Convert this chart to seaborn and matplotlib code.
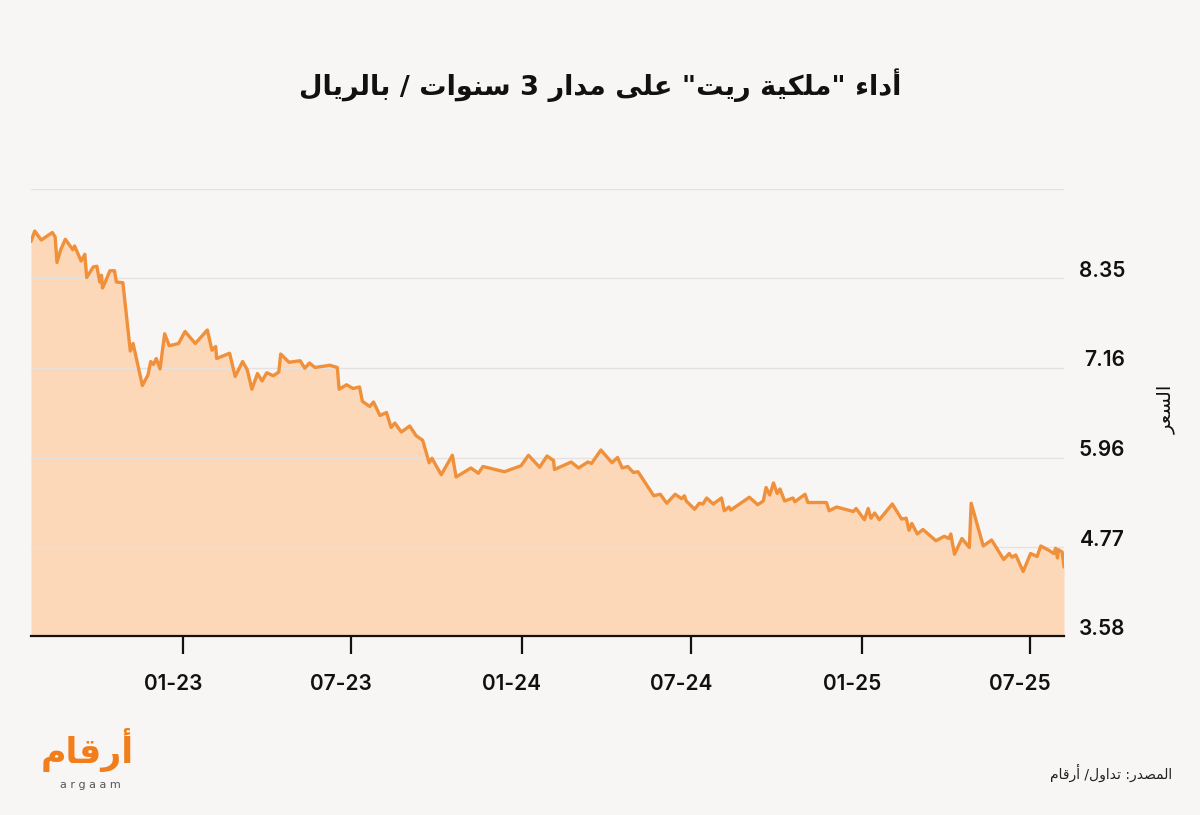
import re
import pandas as pd
import matplotlib.pyplot as plt
import matplotlib.dates as mdates
import matplotlib.transforms as mtransforms
import seaborn as sns

# price series
dates = [
    '2022-07-21', '2022-07-25', '2022-08-01', '2022-08-13', '2022-08-16', '2022-08-18',
    '2022-08-22', '2022-08-27', '2022-09-04', '2022-09-06', '2022-09-13', '2022-09-17',
    '2022-09-19', '2022-09-26', '2022-09-30', '2022-10-03', '2022-10-05', '2022-10-06',
    '2022-10-09', '2022-10-14', '2022-10-19', '2022-10-21', '2022-10-28', '2022-11-05',
    '2022-11-08', '2022-11-18', '2022-11-24', '2022-11-27', '2022-11-30', '2022-12-03',
    '2022-12-07', '2022-12-12', '2022-12-17', '2022-12-27', '2023-01-03', '2023-01-14',
    '2023-01-27', '2023-02-01', '2023-02-05', '2023-02-06', '2023-02-20', '2023-02-26',
    '2023-03-06', '2023-03-11', '2023-03-16', '2023-03-22', '2023-03-27', '2023-04-01',
    '2023-04-08', '2023-04-14', '2023-04-16', '2023-04-25', '2023-05-07', '2023-05-12',
    '2023-05-17', '2023-05-23', '2023-06-08', '2023-06-16', '2023-06-18', '2023-06-26',
    '2023-07-03', '2023-07-10', '2023-07-13', '2023-07-21', '2023-07-25', '2023-08-01',
    '2023-08-08', '2023-08-13', '2023-08-17', '2023-08-24', '2023-09-02', '2023-09-09',
    '2023-09-16', '2023-09-23', '2023-09-26', '2023-10-06', '2023-10-18', '2023-10-22',
    '2023-11-07', '2023-11-15', '2023-11-20', '2023-12-13', '2023-12-31', '2024-01-08',
    '2024-01-20', '2024-01-28', '2024-02-04', '2024-02-05', '2024-02-23', '2024-03-02',
    '2024-03-12', '2024-03-16', '2024-03-26', '2024-04-07', '2024-04-13', '2024-04-18',
    '2024-04-24', '2024-04-30', '2024-05-05', '2024-05-22', '2024-05-29', '2024-06-05',
    '2024-06-14', '2024-06-21', '2024-06-24', '2024-06-26', '2024-07-05', '2024-07-10',
    '2024-07-14', '2024-07-18', '2024-07-25', '2024-08-03', '2024-08-06', '2024-08-11',
    '2024-08-13', '2024-09-02', '2024-09-11', '2024-09-17', '2024-09-20', '2024-09-24',
    '2024-09-28', '2024-10-02', '2024-10-05', '2024-10-10', '2024-10-19', '2024-10-21',
    '2024-11-01', '2024-11-04', '2024-11-24', '2024-11-27', '2024-12-05', '2024-12-23',
    '2024-12-26', '2025-01-04', '2025-01-08', '2025-01-11', '2025-01-15', '2025-01-20',
    '2025-02-03', '2025-02-13', '2025-02-18', '2025-02-21', '2025-02-24', '2025-03-02',
    '2025-03-08', '2025-03-22', '2025-03-31', '2025-04-05', '2025-04-07', '2025-04-11',
    '2025-04-19', '2025-04-27', '2025-04-29', '2025-05-12', '2025-05-21', '2025-06-03',
    '2025-06-09', '2025-06-12', '2025-06-16', '2025-06-24', '2025-07-02', '2025-07-09',
    '2025-07-13', '2025-07-22', '2025-07-27', '2025-07-29', '2025-07-31', '2025-08-01',
    '2025-08-05', '2025-08-07',
]
prices = [
    8.84, 8.98, 8.86, 8.96, 8.90, 8.56,
    8.73, 8.87, 8.73, 8.78, 8.58, 8.67,
    8.36, 8.50, 8.51, 8.30, 8.39, 8.22,
    8.30, 8.45, 8.45, 8.30, 8.29, 7.38,
    7.48, 6.92, 7.06, 7.24, 7.20, 7.28,
    7.14, 7.61, 7.45, 7.48, 7.64, 7.48,
    7.66, 7.39, 7.44, 7.28, 7.35, 7.04,
    7.24, 7.13, 6.87, 7.08, 6.98, 7.09,
    7.05, 7.10, 7.34, 7.23, 7.25, 7.15,
    7.22, 7.16, 7.19, 7.16, 6.87, 6.93,
    6.88, 6.90, 6.71, 6.64, 6.70, 6.52,
    6.56, 6.36, 6.42, 6.30, 6.38, 6.25,
    6.19, 5.89, 5.95, 5.73, 5.99, 5.70,
    5.82, 5.75, 5.84, 5.77, 5.85, 5.99,
    5.83, 5.98, 5.92, 5.80, 5.90, 5.82,
    5.90, 5.88, 6.06, 5.89, 5.96, 5.82,
    5.84, 5.76, 5.77, 5.45, 5.47, 5.35,
    5.47, 5.41, 5.45, 5.38, 5.27, 5.35,
    5.34, 5.42, 5.34, 5.42, 5.25, 5.30,
    5.26, 5.43, 5.33, 5.38, 5.56, 5.46,
    5.62, 5.48, 5.54, 5.38, 5.42, 5.37,
    5.47, 5.36, 5.36, 5.25, 5.30, 5.24,
    5.28, 5.13, 5.28, 5.15, 5.22, 5.13,
    5.34, 5.14, 5.15, 4.99, 5.08, 4.94,
    5.00, 4.85, 4.91, 4.88, 4.94, 4.67,
    4.88, 4.76, 5.35, 4.78, 4.86, 4.60,
    4.68, 4.63, 4.66, 4.44, 4.68, 4.64,
    4.78, 4.72, 4.68, 4.75, 4.62, 4.73,
    4.70, 4.50,
]
ytick_values = [3.58, 4.77, 5.96, 7.16, 8.35]
y_top = 9.54
xtick_dates = ['2023-01-01', '2023-07-01', '2024-01-01', '2024-07-01', '2025-01-01', '2025-07-01']

title = 'أداء "ملكية ريت" على مدار 3 سنوات / بالريال'
ylabel = 'السعر'
source = 'المصدر: تداول/ أرقام'
logo_ar = 'أرقام'
logo_en = 'a r g a a m'

bg = '#f8f6f4'
line_color = '#f0903a'
fill_color = '#fdd8b8'
logo_color = '#f27d1b'

# matplotlib has no arabic shaping, so pick the contextual forms by hand
FORMS = {
    'ء': ('\ufe80', None, None, None),
    'أ': ('\ufe83', '\ufe84', None, None),
    'ا': ('\ufe8d', '\ufe8e', None, None),
    'ب': ('\ufe8f', '\ufe90', '\ufe91', '\ufe92'),
    'ة': ('\ufe93', '\ufe94', None, None),
    'ت': ('\ufe95', '\ufe96', '\ufe97', '\ufe98'),
    'د': ('\ufea9', '\ufeaa', None, None),
    'ر': ('\ufead', '\ufeae', None, None),
    'س': ('\ufeb1', '\ufeb2', '\ufeb3', '\ufeb4'),
    'ص': ('\ufeb9', '\ufeba', '\ufebb', '\ufebc'),
    'ع': ('\ufec9', '\ufeca', '\ufecb', '\ufecc'),
    'ق': ('\ufed5', '\ufed6', '\ufed7', '\ufed8'),
    'ك': ('\ufed9', '\ufeda', '\ufedb', '\ufedc'),
    'ل': ('\ufedd', '\ufede', '\ufedf', '\ufee0'),
    'م': ('\ufee1', '\ufee2', '\ufee3', '\ufee4'),
    'ن': ('\ufee5', '\ufee6', '\ufee7', '\ufee8'),
    'و': ('\ufeed', '\ufeee', None, None),
    'ى': ('\ufeef', '\ufef0', None, None),
    'ي': ('\ufef1', '\ufef2', '\ufef3', '\ufef4'),
}


def ar(text):
    out = []
    for i, ch in enumerate(text):
        if ch not in FORMS:
            out.append(ch)
            continue
        f = FORMS[ch]
        prev = text[i - 1] if i > 0 else ''
        nxt = text[i + 1] if i + 1 < len(text) else ''
        jp = prev in FORMS and FORMS[prev][2] is not None
        jn = nxt in FORMS and f[2] is not None and nxt != 'ء'
        if jp and jn:
            g = f[3]
        elif jp:
            g = f[1] or f[0]
        elif jn:
            g = f[2]
        else:
            g = f[0]
        out.append(g)
    tokens = re.findall(r'[0-9A-Za-z.]+|.', ''.join(out))
    return ''.join(reversed(tokens))


sns.set_theme(style='white')
plt.rcParams['font.family'] = ['Inter', 'DejaVu Sans']

df = pd.DataFrame({'date': pd.to_datetime(dates), 'price': prices})

fig = plt.figure(figsize=(12, 8.15), dpi=100, facecolor=bg)
ax = fig.add_axes([31 / 1200, 1 - 636 / 815, (1064 - 31) / 1200, (636 - 189) / 815])
ax.set_facecolor(bg)

ax.fill_between(df['date'], df['price'], ytick_values[0], color=fill_color, lw=0, zorder=1)
sns.lineplot(data=df, x='date', y='price', ax=ax, color=line_color, lw=2.4, zorder=3)

ax.set_xlim(df['date'].iloc[0], df['date'].iloc[-1])
ax.set_ylim(ytick_values[0], y_top)
ax.set_xlabel('')
ax.set_ylabel('')

ax.yaxis.tick_right()
ax.set_yticks(ytick_values + [y_top])
ax.set_yticklabels([f'{v:.2f}' for v in ytick_values] + [''])
ax.tick_params(axis='y', length=0, pad=44, labelsize=15, labelcolor='#111111')
for lbl in ax.get_yticklabels():
    lbl.set_ha('right')
    lbl.set_fontweight('semibold')
    lbl.set_transform(lbl.get_transform() + mtransforms.ScaledTranslation(0, 0.09, fig.dpi_scale_trans))

ax.set_xticks(pd.to_datetime(xtick_dates))
ax.xaxis.set_major_formatter(mdates.DateFormatter('%m-%y'))
ax.tick_params(axis='x', direction='out', length=13, width=1.6, color='#111111',
               pad=14, labelsize=15, labelcolor='#111111', bottom=True)
for lbl in ax.get_xticklabels():
    lbl.set_fontweight('semibold')
    lbl.set_transform(lbl.get_transform() + mtransforms.ScaledTranslation(-0.1, 0, fig.dpi_scale_trans))

ax.grid(axis='y', color='#e4e1de', lw=1)
ax.grid(axis='x', visible=False)
ax.set_axisbelow('line')
for side in ['top', 'left', 'right']:
    ax.spines[side].set_visible(False)
ax.spines['bottom'].set_color('#111111')
ax.spines['bottom'].set_linewidth(1.6)
ax.spines['bottom'].set_zorder(4)

fig.text(0.5, 1 - 85 / 815, ar(title), ha='center', va='center', fontsize=19.5,
         fontweight='bold', color='#111111', family=['DejaVu Sans'])
fig.text(1166 / 1200, 1 - 409 / 815, ar(ylabel), ha='center', va='center', rotation=90,
         fontsize=14, color='#111111', family=['DejaVu Sans'])
fig.text(1172 / 1200, 1 - 773 / 815, ar(source), ha='right', va='center', fontsize=10,
         color='#222222', family=['DejaVu Sans'])

# logo
fig.text(87 / 1200, 1 - 750 / 815, ar(logo_ar), ha='center', va='center', fontsize=25,
         fontweight='bold', color=logo_color, family=['DejaVu Sans'])
fig.text(90 / 1200, 1 - 785 / 815, logo_en, ha='center', va='center', fontsize=8,
         color='#555555', family=['DejaVu Sans'])

fig.savefig('out.png', dpi=100, facecolor=bg)
